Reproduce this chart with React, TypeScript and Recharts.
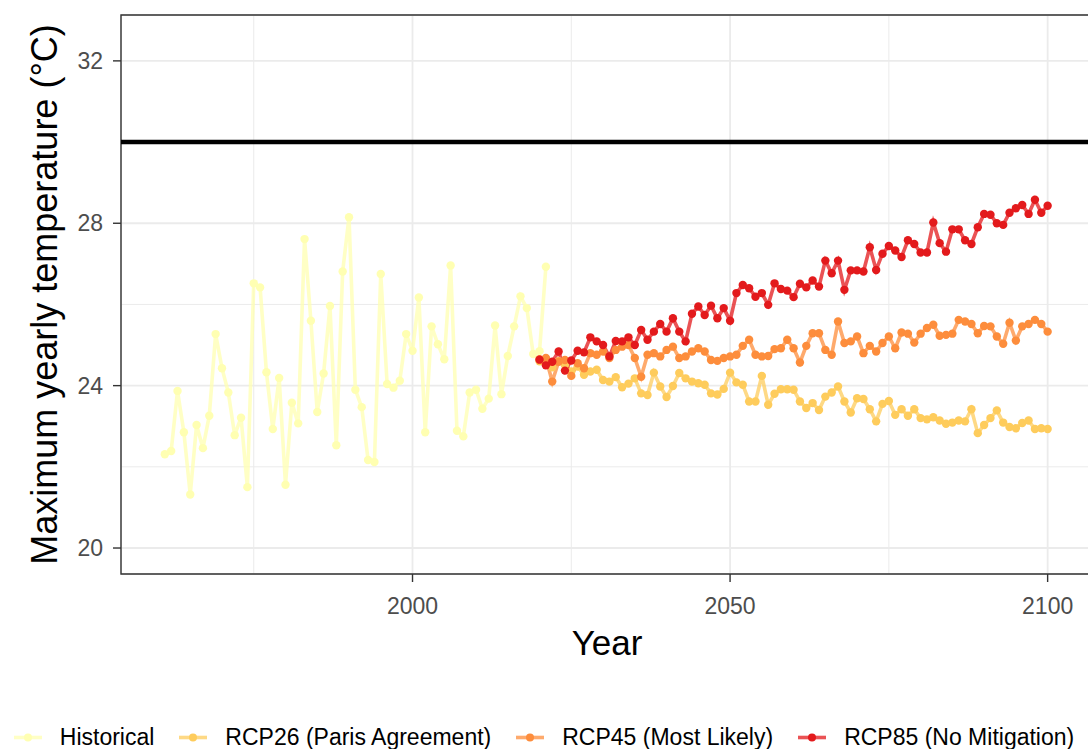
import {
  LineChart, Line, XAxis, YAxis, CartesianGrid, ReferenceLine, ReferenceArea,
} from 'recharts';

// years
const histYears = [
  1961, 1962, 1963, 1964, 1965, 1966, 1967, 1968, 1969, 1970,
  1971, 1972, 1973, 1974, 1975, 1976, 1977, 1978, 1979, 1980,
  1981, 1982, 1983, 1984, 1985, 1986, 1987, 1988, 1989, 1990,
  1991, 1992, 1993, 1994, 1995, 1996, 1997, 1998, 1999, 2000,
  2001, 2002, 2003, 2004, 2005, 2006, 2007, 2008, 2009, 2010,
  2011, 2012, 2013, 2014, 2015, 2016, 2017, 2018, 2019, 2020, 2021,
];
const projYears = [
  2020, 2021, 2022, 2023, 2024, 2025, 2026, 2027, 2028, 2029,
  2030, 2031, 2032, 2033, 2034, 2035, 2036, 2037, 2038, 2039,
  2040, 2041, 2042, 2043, 2044, 2045, 2046, 2047, 2048, 2049,
  2050, 2051, 2052, 2053, 2054, 2055, 2056, 2057, 2058, 2059,
  2060, 2061, 2062, 2063, 2064, 2065, 2066, 2067, 2068, 2069,
  2070, 2071, 2072, 2073, 2074, 2075, 2076, 2077, 2078, 2079,
  2080, 2081, 2082, 2083, 2084, 2085, 2086, 2087, 2088, 2089,
  2090, 2091, 2092, 2093, 2094, 2095, 2096, 2097, 2098, 2099, 2100,
];

// max yearly temperature (°C)
const historical = [
  22.31, 22.39, 23.87, 22.85, 21.32, 23.03, 22.46, 23.26, 25.27, 24.43,
  23.83, 22.78, 23.21, 21.5, 26.52, 26.42, 24.33, 22.93, 24.19, 21.56,
  23.58, 23.07, 27.61, 25.6, 23.35, 24.3, 25.96, 22.53, 26.81, 28.15,
  23.9, 23.47, 22.17, 22.12, 26.75, 24.04, 23.95, 24.12, 25.27, 24.86,
  26.17, 22.85, 25.46, 25.02, 24.65, 26.96, 22.89, 22.75, 23.83, 23.9,
  23.43, 23.68, 25.48, 23.79, 24.73, 25.46, 26.2, 25.91, 24.78, 24.85, 26.93,
];
const rcp26 = [
  24.6, 24.55, 24.45, 24.6, 24.51, 24.35, 24.47, 24.27, 24.35, 24.39,
  24.14, 24.1, 24.21, 23.96, 24.05, 24.18, 23.81, 23.77, 24.32, 23.98,
  23.72, 23.99, 24.31, 24.18, 24.1, 24.06, 24.02, 23.81, 23.78, 23.92,
  24.32, 24.08, 24.02, 23.61, 23.61, 24.24, 23.53, 23.8, 23.91, 23.91,
  23.9, 23.61, 23.45, 23.57, 23.4, 23.73, 23.83, 23.98, 23.61, 23.34,
  23.69, 23.67, 23.42, 23.12, 23.55, 23.62, 23.28, 23.42, 23.26, 23.42,
  23.2, 23.17, 23.22, 23.14, 23.06, 23.09, 23.14, 23.12, 23.42, 22.83,
  23.03, 23.2, 23.39, 23.09, 22.98, 22.95, 23.08, 23.14, 22.93, 22.95, 22.93,
];
const rcp45 = [
  24.65, 24.68, 24.1, 24.59, 24.63, 24.24, 24.55, 24.43, 24.8, 24.76,
  24.84, 24.68, 24.88, 24.96, 25.0, 24.68, 24.22, 24.76, 24.8, 24.72,
  24.88, 24.96, 24.68, 24.72, 24.84, 24.92, 24.84, 24.63, 24.61, 24.68,
  24.72, 24.76, 24.98, 25.13, 24.76, 24.72, 24.73, 24.9, 24.92, 25.13,
  24.92, 24.57, 24.98, 25.29, 25.29, 24.88, 24.76, 25.58, 25.05, 25.09,
  25.21, 24.8, 24.98, 24.84, 25.05, 25.21, 24.92, 25.31, 25.28, 25.06,
  25.28, 25.42, 25.5, 25.23, 25.25, 25.28, 25.62, 25.58, 25.52, 25.29,
  25.47, 25.46, 25.21, 25.03, 25.55, 25.11, 25.46, 25.52, 25.62, 25.52, 25.33,
];
const rcp85 = [
  24.64, 24.5, 24.59, 24.84, 24.37, 24.62, 24.86, 24.82, 25.19, 25.09,
  25.0, 24.72, 25.1, 25.09, 25.19, 25.0, 25.37, 25.13, 25.33, 25.52,
  25.33, 25.66, 25.33, 25.09, 25.77, 25.95, 25.74, 25.97, 25.66, 25.91,
  25.6, 26.28, 26.48, 26.4, 26.19, 26.28, 25.99, 26.52, 26.38, 26.34,
  26.18, 26.51, 26.42, 26.59, 26.44, 27.08, 26.77, 27.08, 26.36, 26.84,
  26.84, 26.81, 27.41, 26.85, 27.25, 27.44, 27.33, 27.17, 27.58, 27.49,
  27.28, 27.28, 28.02, 27.51, 27.3, 27.85, 27.85, 27.58, 27.49, 27.9,
  28.23, 28.21, 28.0, 27.96, 28.26, 28.37, 28.45, 28.23, 28.58, 28.26, 28.43,
];

const threshold = 30;
const xTicks = [2000, 2050, 2100];
const xMinor = [1975, 2025, 2075];
const yTicks = [20, 24, 28, 32];
const yMinor = [22, 26, 30];

const series = [
  { name: 'Historical', years: histYears, values: historical, color: '#FFFFB2' },
  { name: 'RCP26 (Paris Agreement)', years: projYears, values: rcp26, color: '#FECC5C' },
  { name: 'RCP45 (Most Likely)', years: projYears, values: rcp45, color: '#FD8D3C' },
  { name: 'RCP85 (No Mitigation)', years: projYears, values: rcp85, color: '#E31A1C' },
];

const X_DOMAIN = [1954.1, 2107.3];
const Y_DOMAIN = [19.36, 33.13];
const FONT = '"Liberation Sans", Arial, Helvetica, sans-serif';

export default function App() {
  return (
    <div style={{ position: 'absolute', left: 0, top: 0, width: 1088, height: 749, overflow: 'hidden', background: '#fff', fontFamily: FONT }}>
      <LineChart width={1110} height={749} margin={{ top: 15, right: 16, bottom: 75, left: 0 }}>
        <CartesianGrid stroke="#EBEBEB" strokeWidth={1} horizontalValues={yMinor} verticalValues={xMinor} />
        <CartesianGrid stroke="#EBEBEB" strokeWidth={1.8} />
        <XAxis
          type="number"
          dataKey="year"
          domain={X_DOMAIN}
          allowDataOverflow
          ticks={xTicks}
          interval={0}
          height={100}
          axisLine={false}
          tickLine={{ stroke: '#333', strokeWidth: 1.4 }}
          tickSize={8}
          tickMargin={16}
          tick={{ fill: '#4D4D4D', fontSize: 23, fontFamily: FONT }}
          label={{
            content: () => (
              <text x={607} y={655} textAnchor="middle" fontSize={35} fill="#000" fontFamily={FONT}>Year</text>
            ),
          }}
        />
        <YAxis
          type="number"
          domain={Y_DOMAIN}
          allowDataOverflow
          ticks={yTicks}
          interval={0}
          width={121}
          axisLine={false}
          tickLine={{ stroke: '#333', strokeWidth: 1.4 }}
          tickSize={8}
          tickMargin={10}
          tick={{ fill: '#4D4D4D', fontSize: 23, fontFamily: FONT }}
          label={{
            content: () => (
              <text x={57} y={294.5} transform="rotate(-90 57 294.5)" textAnchor="middle" fontSize={36} fill="#000" fontFamily={FONT}>
                Maximum yearly temperature (°C)
              </text>
            ),
          }}
        />
        <ReferenceLine y={threshold} stroke="#000" strokeWidth={4.5} />
        {series.map((s) => (
          <Line
            key={s.name}
            data={s.years.map((year, i) => ({ year, temp: s.values[i] }))}
            dataKey="temp"
            name={s.name}
            type="linear"
            stroke={s.color}
            strokeOpacity={0.75}
            strokeWidth={3.6}
            dot={{ r: 4.2, fill: s.color, stroke: 'none' }}
            activeDot={false}
            isAnimationActive={false}
          />
        ))}
        <ReferenceArea
          x1={X_DOMAIN[0]} x2={X_DOMAIN[1]} y1={Y_DOMAIN[0]} y2={Y_DOMAIN[1]}
          fill="none" fillOpacity={0} stroke="#333" strokeWidth={1.4}
        />
      </LineChart>
      <div style={{ position: 'absolute', left: 0, top: 726, width: 1088, display: 'flex', justifyContent: 'center', alignItems: 'center' }}>
        {series.map((s, i) => (
          <div key={s.name} style={{ display: 'flex', alignItems: 'center', marginRight: i < series.length - 1 ? 25 : 0 }}>
            <svg width={28} height={23} style={{ marginRight: 18 }}>
              <line x1={0} y1={11.5} x2={28} y2={11.5} stroke={s.color} strokeOpacity={0.75} strokeWidth={3.6} />
              <circle cx={14} cy={11.5} r={4} fill={s.color} />
            </svg>
            <span style={{ fontSize: 23, lineHeight: '23px', color: '#000', whiteSpace: 'nowrap' }}>{s.name}</span>
          </div>
        ))}
      </div>
    </div>
  );
}
